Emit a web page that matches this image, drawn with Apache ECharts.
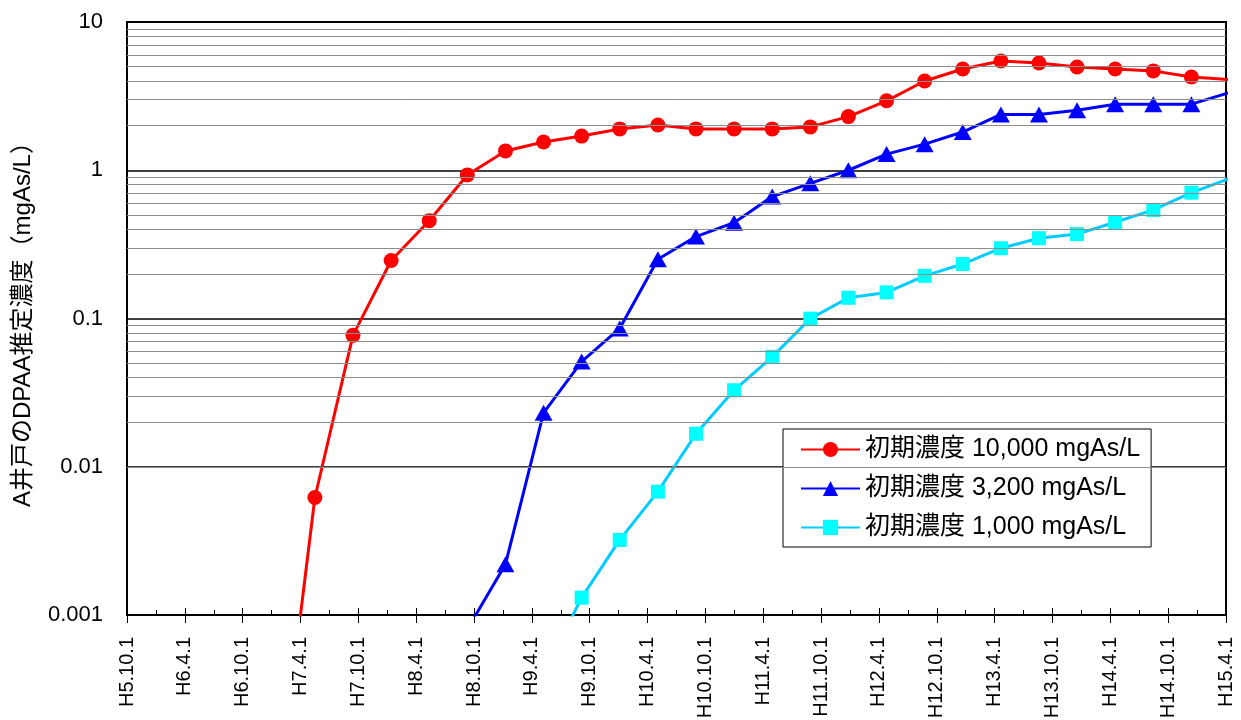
<!DOCTYPE html>
<html>
<head>
<meta charset="utf-8">
<script src="https://cdn.jsdelivr.net/npm/echarts@6/dist/echarts.min.js"></script>
<style>
html,body{margin:0;padding:0;background:#ffffff;}
#chart{width:1241px;height:720px;}
</style>
</head>
<body>
<div id="chart"></div>
<script>
// x tick labels (every 6 months, starting H5.10.1)
const xTickLabels = ['H5.10.1','H6.4.1','H6.10.1','H7.4.1','H7.10.1','H8.4.1','H8.10.1','H9.4.1','H9.10.1','H10.4.1',
  'H10.10.1','H11.4.1','H11.10.1','H12.4.1','H12.10.1','H13.4.1','H13.10.1','H14.4.1','H14.10.1','H15.4.1'];
const yTickLabels = ['0.001','0.01','0.1','1','10'];

// time of each output, in months elapsed since H5.10.1
const months = [15.54, 19.49, 23.44, 27.40, 31.35, 35.30, 39.26, 43.21, 47.16, 51.11, 55.07, 59.02, 62.97,
  66.93, 70.88, 74.83, 78.79, 82.74, 86.69, 90.65, 94.60, 98.55, 102.50, 106.46, 110.41, 114.36];

// estimated DPAA concentration (mgAs/L)
const conc10000 = [0.00005, 0.0062, 0.077, 0.246, 0.457, 0.93, 1.35, 1.55, 1.70, 1.90, 2.02, 1.90, 1.90,
  1.90, 1.96, 2.30, 2.94, 4.00, 4.82, 5.46, 5.29, 4.97, 4.82, 4.68, 4.26, 4.08];
const conc3200 = [null, null, null, null, null, 0.0008, 0.0022, 0.0231, 0.0512, 0.0857, 0.251, 0.357, 0.443,
  0.664, 0.816, 1.00, 1.285, 1.50, 1.81, 2.38, 2.38, 2.54, 2.79, 2.79, 2.79, 3.34];
const conc1000 = [null, null, null, null, null, null, null, 0.0004, 0.00131, 0.00321, 0.00679, 0.0167, 0.0328,
  0.0551, 0.0998, 0.138, 0.150, 0.194, 0.233, 0.298, 0.348, 0.371, 0.446, 0.540, 0.706, 0.88];

const seriesNames = ['初期濃度 10,000 mgAs/L', '初期濃度 3,200 mgAs/L', '初期濃度 1,000 mgAs/L'];
const yAxisTitle = 'A井戸のDPAA推定濃度（mgAs/L）';

function pairs(vals) {
  const out = [];
  vals.forEach((v, i) => { if (v !== null) out.push([months[i], v]); });
  return out;
}

// minor horizontal gridlines at 2..9 of each decade
const minorLines = [];
[0.001, 0.01, 0.1, 1].forEach(d => { for (let k = 2; k <= 9; k++) minorLines.push({ yAxis: +(d * k).toPrecision(3) }); });

const latinCJK = "'Liberation Sans','Noto Sans CJK JP',sans-serif";

const chart = echarts.init(document.getElementById('chart'), null, { renderer: 'canvas' });
chart.setOption({
  animation: false,
  backgroundColor: '#ffffff',
  grid: { left: 127, right: 15, top: 22, bottom: 105, containLabel: false, outerBoundsMode: 'none',
    show: true, borderColor: '#000', borderWidth: 2, backgroundColor: '#fff' },
  legend: {
    data: seriesNames,
    orient: 'vertical',
    left: 783, top: 429,
    padding: [8, 11, 7, 17],
    itemGap: 14,
    itemWidth: 59, itemHeight: 19,
    backgroundColor: '#fff', borderColor: '#000', borderWidth: 1,
    textStyle: { fontSize: 25, color: '#000', fontFamily: latinCJK }
  },
  xAxis: [
    {
      type: 'value', min: 0, max: 114, interval: 6,
      axisLine: { show: true, lineStyle: { color: '#000', width: 2 } },
      axisTick: { show: true, inside: false, length: 8, lineStyle: { color: '#000', width: 1 } },
      axisLabel: { rotate: 90, margin: 22, fontSize: 20, color: '#000', fontFamily: "'Liberation Sans',sans-serif",
        formatter: v => xTickLabels[Math.round(v / 6)] || '' },
      splitLine: { show: false }
    },
    {
      type: 'value', min: 0, max: 114, interval: 6, position: 'bottom',
      axisLine: { show: false },
      axisTick: { show: true, inside: true, length: 7, lineStyle: { color: '#000', width: 1 } },
      minorTick: { show: true, splitNumber: 2, length: 5, lineStyle: { color: '#000', width: 1 } },
      axisLabel: { show: false },
      splitLine: { show: false }
    }
  ],
  yAxis: {
    type: 'log', logBase: 10, min: 0.001, max: 10,
    name: yAxisTitle, nameLocation: 'middle', nameGap: 92,
    nameTextStyle: { fontSize: 24, color: '#000', fontFamily: latinCJK },
    axisLine: { show: true, lineStyle: { color: '#000', width: 2 } },
    axisTick: { show: false },
    axisLabel: { margin: 24, fontSize: 22, color: '#000', fontFamily: "'Liberation Sans',sans-serif",
      formatter: v => yTickLabels[Math.round(Math.log10(v)) + 3] || '' },
    splitLine: { show: true, lineStyle: { color: '#000', width: 1.5 } }
  },
  series: [
    {
      name: 'minor', type: 'line', data: [], z: 1, silent: true,
      markLine: { silent: true, symbol: ['none', 'none'], label: { show: false }, animation: false,
        lineStyle: { color: '#8c8c8c', width: 1, type: 'solid' }, emphasis: { disabled: true }, data: minorLines }
    },
    {
      name: seriesNames[0], type: 'line', data: pairs(conc10000), clip: true, z: 4,
      symbol: 'circle', symbolSize: 15, showAllSymbol: true,
      lineStyle: { color: '#ff0000', width: 3 }, itemStyle: { color: '#ff0000' }
    },
    {
      name: seriesNames[1], type: 'line', data: pairs(conc3200), clip: true, z: 3,
      symbol: 'triangle', symbolSize: [18, 16], showAllSymbol: true,
      lineStyle: { color: '#0000ff', width: 3 }, itemStyle: { color: '#0000ff' }
    },
    {
      name: seriesNames[2], type: 'line', data: pairs(conc1000), clip: true, z: 2,
      symbol: 'rect', symbolSize: 14, showAllSymbol: true,
      lineStyle: { color: '#00ccff', width: 3 }, itemStyle: { color: '#00ffff' }
    }
  ]
});
</script>
</body>
</html>
